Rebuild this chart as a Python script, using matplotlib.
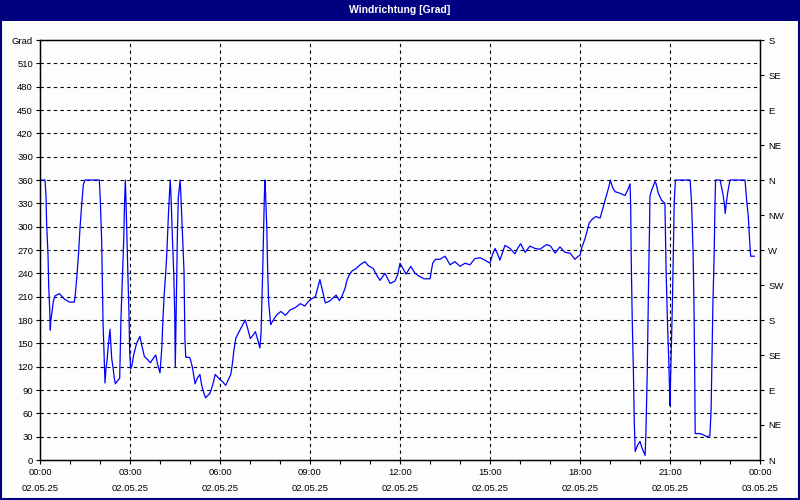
import matplotlib
matplotlib.use("Agg")
import matplotlib.pyplot as plt
from matplotlib.patches import Rectangle

# ---- data ----
hours = [
    0.0, 0.167, 0.2, 0.222, 0.267, 0.289, 0.322, 0.344, 0.356, 0.389, 0.444, 0.5, 0.644, 0.811, 0.978,
    1.144, 1.178, 1.233, 1.289, 1.333, 1.389, 1.444, 1.5, 1.978, 2.011, 2.056, 2.1, 2.144, 2.167, 2.2,
    2.233, 2.278, 2.333, 2.356, 2.389, 2.433, 2.478, 2.511, 2.567, 2.656, 2.7, 2.756, 2.789, 2.822, 2.844,
    2.867, 2.9, 2.933, 2.967, 2.989, 3.022, 3.067, 3.122,
    3.22, 3.33, 3.39, 3.48, 3.59, 3.68, 3.78, 3.86, 3.92, 4.0, 4.02, 4.06, 4.1, 4.14, 4.19, 4.23, 4.28,
    4.32, 4.34, 4.37, 4.41, 4.46, 4.49, 4.51, 4.54, 4.58, 4.61, 4.67, 4.70, 4.75, 4.80, 4.83, 4.86, 4.98,
    5.01, 5.08, 5.17, 5.24, 5.33, 5.39, 5.48, 5.52, 5.67, 5.76, 5.84, 6.01, 6.08, 6.19, 6.36, 6.41, 6.46, 6.5,
    6.53, 6.68, 6.84, 6.93, 7.01, 7.09, 7.18, 7.27, 7.33, 7.37, 7.40, 7.42, 7.46, 7.48, 7.5, 7.52, 7.56,
    7.59, 7.62, 7.69, 7.76, 7.9, 8.03, 8.18, 8.34, 8.51, 8.68, 8.82, 9.0, 9.18, 9.33, 9.42, 9.51, 9.64,
    9.76, 9.87, 9.98, 10.06, 10.17, 10.24, 10.31, 10.4, 10.53, 10.67, 10.83, 10.94, 11.11, 11.22, 11.33,
    11.5, 11.67, 11.83, 11.92, 12.0, 12.09, 12.2, 12.36, 12.5, 12.61, 12.8, 13.0, 13.09, 13.18, 13.33,
    13.5, 13.67, 13.83, 14.0, 14.17, 14.33, 14.5, 14.67, 14.83, 15.0, 15.08, 15.17, 15.25, 15.33, 15.41,
    15.5, 15.67, 15.83, 15.92, 16.02, 16.17, 16.33, 16.5, 16.67, 16.81,
    16.89, 17.02, 17.17, 17.33, 17.5, 17.67, 17.83, 17.94, 18.0, 18.06, 18.17, 18.31, 18.42, 18.53, 18.67,
    18.78, 18.89, 18.96, 19.01, 19.09, 19.17, 19.33, 19.5, 19.59, 19.67, 19.69, 19.71, 19.74, 19.78, 19.81,
    19.84, 19.92, 20.0, 20.07, 20.17, 20.2, 20.24, 20.29, 20.32,
    20.33, 20.39, 20.5, 20.53, 20.61, 20.72, 20.83, 20.87, 20.91, 20.96, 21.0, 21.01, 21.04, 21.08,
    21.11, 21.14, 21.18, 21.67, 21.72, 21.77, 21.8, 21.82, 21.84, 22.0, 22.13, 22.22, 22.33, 22.37, 22.4,
    22.43, 22.47, 22.5, 22.52, 22.67, 22.76, 22.81, 22.84, 22.87, 22.92, 23.0, 23.5, 23.56, 23.61, 23.67,
    23.69, 23.81,
]
degrees = [
    360, 360, 340, 303, 264, 225, 195, 167, 178, 187, 204, 211, 214, 207, 203,
    203, 213, 238, 268, 298, 328, 354, 360, 360, 333, 281, 178, 125, 99, 118,
    127, 148, 168, 153, 131, 119, 105, 98, 101, 105, 183, 247, 281, 335, 360,
    333, 281, 234, 187, 140, 117, 122, 135,
    150, 159, 148, 133, 129, 125, 131, 135, 123, 112, 123, 144, 183, 213, 240, 268, 315,
    345, 360, 337, 290, 238, 191, 120, 191, 290, 337, 360, 337, 290, 243, 155, 132, 132,
    130, 119, 98, 105, 110, 96, 84, 80, 86, 97, 110, 103, 101, 96, 110, 123, 140, 150,
    157, 168, 180, 168, 156, 160, 165, 153, 144, 165, 208, 238, 303, 341, 360, 341, 298,
    243, 204, 174, 179, 187, 191, 186, 193, 196, 201, 198, 206, 210, 232, 217, 202, 204,
    208, 212, 205, 210, 221, 232, 238, 243, 246, 251, 255, 250, 246, 238, 231,
    240, 227, 230, 238, 253, 247, 239, 249, 240, 237, 233, 233, 253, 258, 258,
    262, 251, 255, 249, 253, 251, 259, 260, 257, 253, 264, 272, 265, 257, 266,
    276, 272, 265, 272, 278, 267, 275, 272, 271, 275,
    277, 275, 266, 274, 267, 266, 258, 262, 263, 273, 285, 305, 310, 313, 311,
    326, 341, 351, 360, 350, 345, 343, 340, 347, 355, 324, 253, 183, 114, 47,
    11, 19, 24, 15, 6, 39, 110, 238, 305,
    339, 347, 358, 356, 343, 334, 330, 244, 184, 126, 70, 90, 137, 201,
    266, 330, 360, 360, 330, 266, 197, 129, 34, 34, 32, 30, 31, 64, 129,
    201, 261, 330, 360, 360, 343, 330, 317, 328, 343, 360, 360, 332, 313, 272,
    262, 262,
]

x_tick_hours = [0, 3, 6, 9, 12, 15, 18, 21, 24]
x_tick_labels = ["00:00\n02.05.25", "03:00\n02.05.25", "06:00\n02.05.25", "09:00\n02.05.25",
                 "12:00\n02.05.25", "15:00\n02.05.25", "18:00\n02.05.25", "21:00\n02.05.25",
                 "00:00\n03.05.25"]
y_ticks = list(range(0, 541, 30))
y_tick_labels = [str(v) for v in y_ticks[:-1]] + ["Grad"]
compass_ticks = list(range(0, 541, 45))
compass_labels = ["N", "NE", "E", "SE", "S", "SW", "W", "NW", "N", "NE", "E", "SE", "S"]
title = "Windrichtung [Grad]"

plt.rcParams['font.family'] = ['Liberation Sans', 'DejaVu Sans']

fig = plt.figure(figsize=(8, 5), dpi=100, facecolor='#FCFDFC')
navy = '#000080'
# title bar
fig.patches.append(Rectangle((0, 1 - 21 / 500), 1, 21 / 500, transform=fig.transFigure,
                             facecolor=navy, edgecolor='none', zorder=0))
fig.patches.append(Rectangle((0.001, 0.002), 0.998, 0.996, transform=fig.transFigure,
                             facecolor='none', edgecolor=navy, linewidth=1.5, zorder=5))
fig.text(0.5, 1 - 10 / 500, title, color='white', fontsize=7.5, fontweight='bold',
         ha='center', va='center')

ax = fig.add_axes([40 / 800, 40 / 500, 720 / 800, 420 / 500])
ax.set_facecolor('#FCFDFC')
ax.plot(hours, degrees, color='#0000FF', linewidth=0.9, zorder=3)

ax.set_xlim(0, 24)
ax.set_ylim(0, 540)
ax.set_xticks(x_tick_hours)
ax.set_xticklabels(x_tick_labels, fontsize=6.8, linespacing=1.9)
ax.set_xticks(range(0, 25), minor=True)
ax.set_yticks(y_ticks)
ax.set_yticklabels(y_tick_labels, fontsize=6.8)
ax.tick_params(axis='x', which='both', direction='out', length=3, width=0.8, pad=3)
ax.tick_params(axis='y', which='both', direction='out', length=3, width=0.8, pad=2)

for h in x_tick_hours[1:-1]:
    ax.axvline(h, color='black', linewidth=0.8, linestyle=(0, (3, 3)), zorder=1)
for v in y_ticks[1:-1]:
    ax.axhline(v, color='black', linewidth=0.8, linestyle=(0, (3, 3)), zorder=1)

for sp in ax.spines.values():
    sp.set_color('black')
    sp.set_linewidth(1.0)

ax2 = ax.twinx()
ax2.set_ylim(0, 540)
ax2.set_yticks(compass_ticks)
ax2.set_yticklabels(compass_labels, fontsize=6.8)
ax2.tick_params(axis='y', direction='out', length=3, width=0.8, pad=3)

fig.savefig('out.png', dpi=100, facecolor=fig.get_facecolor())
